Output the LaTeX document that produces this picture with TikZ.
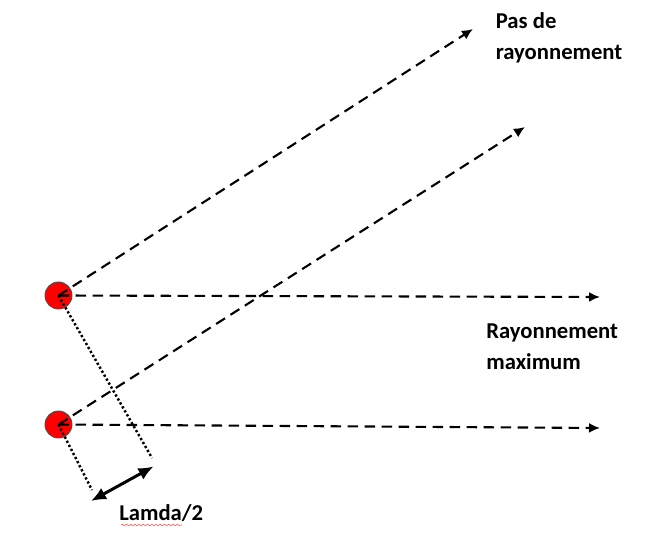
\documentclass[tikz,border=0pt]{standalone}
\usepackage{fontspec}
\setmainfont{Carlito}
\usetikzlibrary{
    arrows.meta,
    decorations.pathmorphing,
    positioning
}
\tikzset{
    source/.style={circle, draw=black!70, fill=red, line width=0.5pt, minimum size=0.54cm, inner sep=0pt},
    ray/.style={line width=1.2pt, dash pattern=on 0.21cm off 0.13cm, -{Latex[length=0.22cm,width=0.2cm]}},
    guide/.style={line width=1.4pt, dash pattern=on 1.3pt off 1.3pt},
    label/.style={font=\bfseries\fontsize{12.9}{17.6}\selectfont, inner sep=0pt, align=left, anchor=north west}
}
\begin{document}
\begin{tikzpicture}
                        \useasboundingbox (0, 0) rectangle (13, 11);
                        \node[source] (s1) at (1.17, 5.09) {};
                        \node[source] (s2) at (1.17, 2.51) {};
                        \coordinate (e1) at (9.46, 10.42);
                        \coordinate (e2) at (10.5, 8.46);
                        \coordinate (e3) at (12, 5.06);
                        \coordinate (e4) at (12, 2.44);
                        \coordinate (d1) at (3.04, 1.84);
                        \coordinate (d2) at (1.84, 1.2);
                        \coordinate (m1) at (3.07, 1.67);
                        \coordinate (m2) at (1.82, 0.98);
                        \coordinate (w1) at (2.42, 0.5);
                        \coordinate (w2) at (3.64, 0.5);
                        \node[label] (pas) at (9.91, 10.75) {Pas de\\rayonnement};
                        \node[label] (max) at (9.72, 4.53) {Rayonnement\\maximum};
                        \node[label] (lam) at (2.38, 0.91) {Lamda/2};
                        \draw[ray] (s1.center) -- (e1);
                        \draw[ray] (s2.center) -- (e2);
                        \draw[ray] (s1.center) -- (e3);
                        \draw[ray] (s2.center) -- (e4);
                        \draw[guide]
                        (s1.center) -- (d1)
                        (s2.center) -- (d2);
                        \draw[line width=1.7pt, {Latex[length=0.3cm,width=0.26cm]}-{Latex[length=0.3cm,width=0.26cm]}] (m2) -- (m1);
                        \draw[red!60, line width=0.4pt, decorate, decoration={snake, amplitude=0.4pt, segment length=2.4pt}] (w1) -- (w2);
                    \end{tikzpicture}
\end{document}
